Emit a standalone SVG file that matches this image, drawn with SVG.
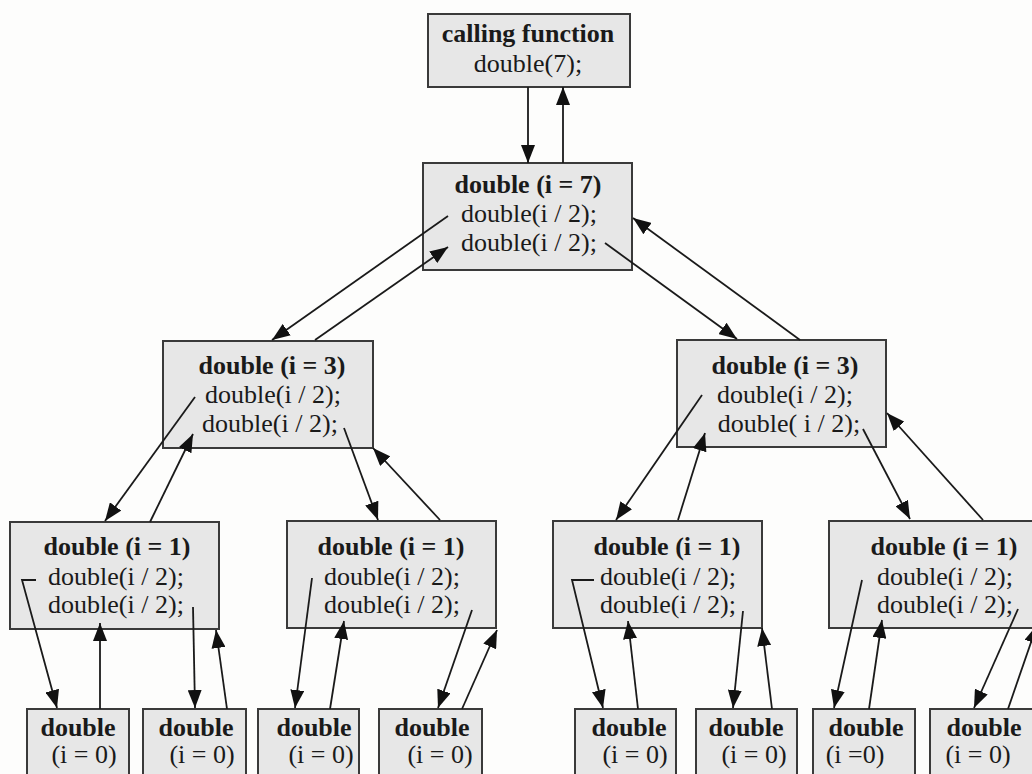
<svg xmlns="http://www.w3.org/2000/svg" width="1032" height="774" viewBox="0 0 1032 774">
<style>
.box{fill:#e7e7e7;stroke:#3a3a3a;stroke-width:2}
.t{font-family:"Liberation Serif","Times New Roman",serif;font-size:26px;fill:#1a1a1a;text-anchor:middle}
.b{font-weight:bold}
.c{fill:none;stroke:#1a1a1a;stroke-width:1.8}
</style>
<defs>
<marker id="ah" viewBox="0 0 18 14" refX="18" refY="7" markerWidth="18" markerHeight="14" markerUnits="userSpaceOnUse" orient="auto">
<path d="M0,0 L18,7 L0,14 z" fill="#111"/>
</marker>
</defs>
<rect width="1032" height="774" fill="#fdfdfc"/>

<g id="calling">
<rect class="box" x="428" y="14" width="202" height="73"/>
<text class="t b" x="528" y="42">calling function</text>
<text class="t" x="528" y="72">double(7);</text>
</g>

<g id="d7">
<rect class="box" x="423" y="163" width="209" height="107"/>
<text class="t b" x="528" y="193">double (i = 7)</text>
<text class="t" x="529" y="222">double(i / 2);</text>
<text class="t" x="529" y="251">double(i / 2);</text>
</g>

<g id="d3L">
<rect class="box" x="163" y="341" width="210" height="107"/>
<text class="t b" x="272" y="374">double (i = 3)</text>
<text class="t" x="273" y="403">double(i / 2);</text>
<text class="t" x="270" y="432">double(i / 2);</text>
</g>

<g id="d3R">
<rect class="box" x="677" y="340" width="209" height="107"/>
<text class="t b" x="785" y="374">double (i = 3)</text>
<text class="t" x="785" y="403">double(i / 2);</text>
<text class="t" x="789" y="432">double( i / 2);</text>
</g>

<g id="d1A">
<rect class="box" x="10" y="522" width="209" height="107"/>
<text class="t b" x="117" y="555">double (i = 1)</text>
<text class="t" x="116" y="585">double(i / 2);</text>
<text class="t" x="116" y="613">double(i / 2);</text>
</g>
<g id="d1B">
<rect class="box" x="287" y="521" width="209" height="107"/>
<text class="t b" x="391" y="555">double (i = 1)</text>
<text class="t" x="392" y="585">double(i / 2);</text>
<text class="t" x="392" y="613">double(i / 2);</text>
</g>
<g id="d1C">
<rect class="box" x="553" y="521" width="209" height="107"/>
<text class="t b" x="667" y="555">double (i = 1)</text>
<text class="t" x="668" y="585">double(i / 2);</text>
<text class="t" x="668" y="613">double(i / 2);</text>
</g>
<g id="d1D">
<rect class="box" x="829" y="521" width="215" height="107"/>
<text class="t b" x="944" y="555">double (i = 1)</text>
<text class="t" x="945" y="585">double(i / 2);</text>
<text class="t" x="945" y="613">double(i / 2);</text>
</g>

<g id="d0a">
<rect class="box" x="27" y="709" width="102" height="80"/>
<text class="t b" x="78" y="736">double</text>
<text class="t" x="84" y="763">(i = 0)</text>
</g>
<g id="d0b">
<rect class="box" x="143" y="709" width="103" height="80"/>
<text class="t b" x="196" y="736">double</text>
<text class="t" x="202" y="763">(i = 0)</text>
</g>
<g id="d0c">
<rect class="box" x="258" y="709" width="101" height="80"/>
<text class="t b" x="314" y="736">double</text>
<text class="t" x="321" y="763">(i = 0)</text>
</g>
<g id="d0d">
<rect class="box" x="379" y="709" width="103" height="80"/>
<text class="t b" x="432" y="736">double</text>
<text class="t" x="440" y="763">(i = 0)</text>
</g>
<g id="d0e">
<rect class="box" x="575" y="709" width="101" height="80"/>
<text class="t b" x="629" y="736">double</text>
<text class="t" x="635" y="763">(i = 0)</text>
</g>
<g id="d0f">
<rect class="box" x="696" y="709" width="101" height="80"/>
<text class="t b" x="746" y="736">double</text>
<text class="t" x="754" y="763">(i = 0)</text>
</g>
<g id="d0g">
<rect class="box" x="813" y="709" width="102" height="80"/>
<text class="t b" x="866" y="736">double</text>
<text class="t" x="855" y="763">(i =0)</text>
</g>
<g id="d0h">
<rect class="box" x="930" y="709" width="110" height="80"/>
<text class="t b" x="984" y="736">double</text>
<text class="t" x="978" y="763">(i = 0)</text>
</g>

<g id="connectors">
<line class="c" x1="528" y1="87" x2="528" y2="163" marker-end="url(#ah)"/>
<line class="c" x1="563" y1="163" x2="563" y2="87" marker-end="url(#ah)"/>

<line class="c" x1="448" y1="216" x2="272" y2="340" marker-end="url(#ah)"/>
<line class="c" x1="315" y1="340" x2="448" y2="247" marker-end="url(#ah)"/>
<line class="c" x1="605" y1="243" x2="737" y2="339" marker-end="url(#ah)"/>
<line class="c" x1="800" y1="340" x2="633" y2="218" marker-end="url(#ah)"/>

<line class="c" x1="195" y1="397" x2="105" y2="521" marker-end="url(#ah)"/>
<line class="c" x1="150" y1="522" x2="193" y2="434" marker-end="url(#ah)"/>
<line class="c" x1="344" y1="428" x2="378" y2="520" marker-end="url(#ah)"/>
<line class="c" x1="440" y1="520" x2="373" y2="448" marker-end="url(#ah)"/>

<line class="c" x1="702" y1="395" x2="616" y2="520" marker-end="url(#ah)"/>
<line class="c" x1="678" y1="520" x2="705" y2="433" marker-end="url(#ah)"/>
<line class="c" x1="863" y1="429" x2="910" y2="519" marker-end="url(#ah)"/>
<line class="c" x1="983" y1="520" x2="887" y2="413" marker-end="url(#ah)"/>

<polyline class="c" points="36,580 22,580 57,708" marker-end="url(#ah)"/>
<line class="c" x1="100" y1="709" x2="100" y2="623" marker-end="url(#ah)"/>
<line class="c" x1="193" y1="607" x2="195" y2="708" marker-end="url(#ah)"/>
<line class="c" x1="227" y1="709" x2="216" y2="630" marker-end="url(#ah)"/>

<line class="c" x1="312" y1="578" x2="295" y2="708" marker-end="url(#ah)"/>
<line class="c" x1="330" y1="709" x2="344" y2="621" marker-end="url(#ah)"/>
<line class="c" x1="472" y1="610" x2="438" y2="708" marker-end="url(#ah)"/>
<line class="c" x1="462" y1="709" x2="497" y2="630" marker-end="url(#ah)"/>

<polyline class="c" points="594,580 572,580 603,708" marker-end="url(#ah)"/>
<line class="c" x1="638" y1="709" x2="628" y2="621" marker-end="url(#ah)"/>
<line class="c" x1="743" y1="611" x2="733" y2="708" marker-end="url(#ah)"/>
<line class="c" x1="772" y1="709" x2="762" y2="628" marker-end="url(#ah)"/>

<line class="c" x1="862" y1="580" x2="834" y2="708" marker-end="url(#ah)"/>
<line class="c" x1="869" y1="709" x2="882" y2="620" marker-end="url(#ah)"/>
<line class="c" x1="1018" y1="609" x2="974" y2="708" marker-end="url(#ah)"/>
<line class="c" x1="1008" y1="709" x2="1037" y2="625" marker-end="url(#ah)"/>
</g>
</svg>
